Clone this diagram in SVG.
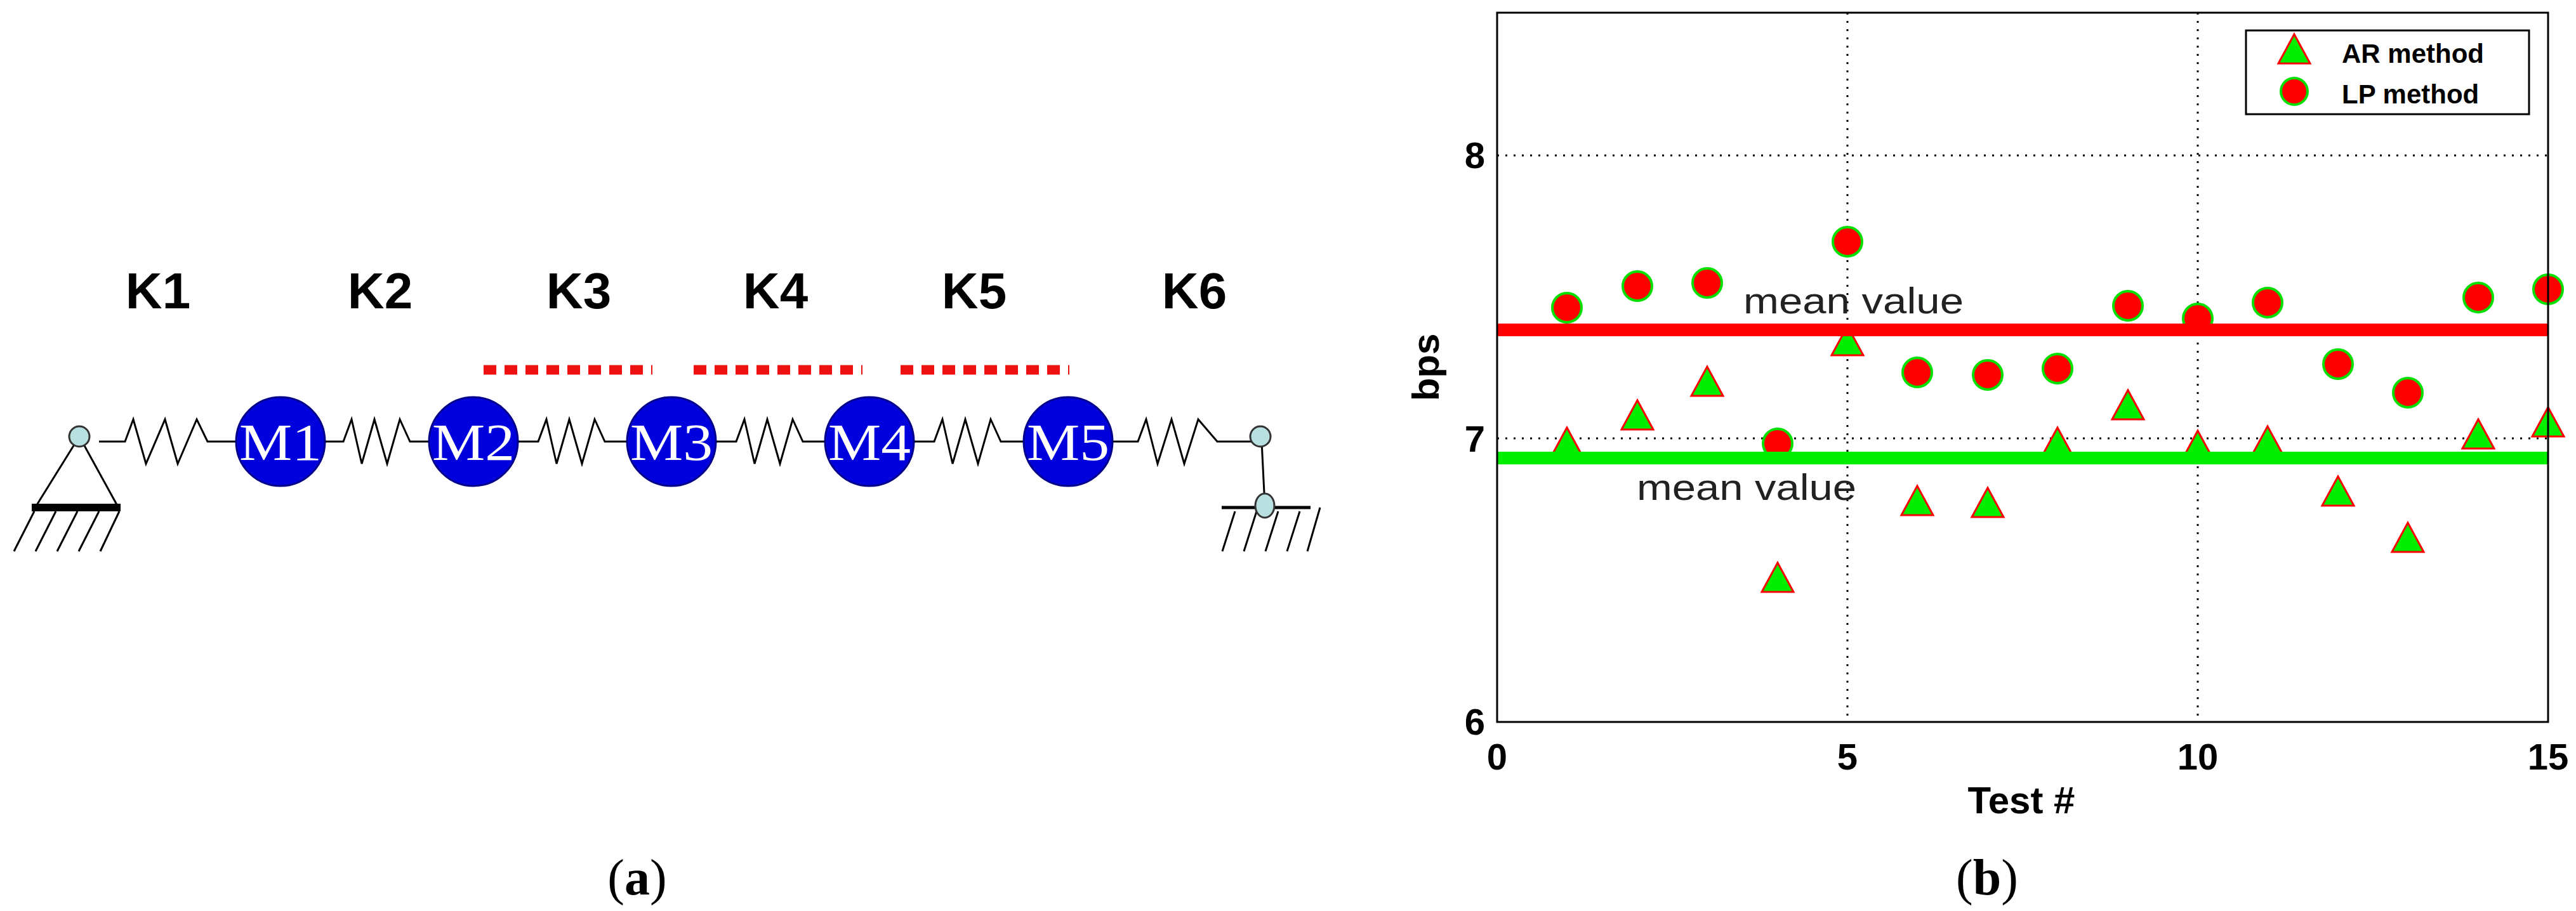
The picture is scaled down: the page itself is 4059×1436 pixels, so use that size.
<svg xmlns="http://www.w3.org/2000/svg" width="4059" height="1436" viewBox="0 0 4059 1436">
<style>
.k{font-family:"Liberation Sans",Arial,sans-serif;font-weight:bold;font-size:80px;fill:#000;text-anchor:middle}
.m{font-family:"Liberation Serif","Times New Roman",serif;font-size:82px;fill:#fff;text-anchor:middle}
.mass{fill:#0000dd;stroke:#00008a;stroke-width:3}
.sp{fill:none;stroke:#000;stroke-width:3}
.bar{stroke:#000;stroke-width:6}
.pin{fill:#b8e0e0;stroke:#333;stroke-width:3}
.h{stroke:#000;stroke-width:3}
.tick{font-family:"Liberation Sans",Arial,sans-serif;font-weight:bold;font-size:58px;fill:#000}
.ax{font-family:"Liberation Sans",Arial,sans-serif;font-weight:bold;font-size:60px;fill:#000;text-anchor:middle}
.mv{font-family:"Liberation Sans",Arial,sans-serif;font-size:58px;fill:#222}
.lg{font-family:"Liberation Sans",Arial,sans-serif;font-weight:bold;font-size:42px;fill:#000}
.grid{stroke:#000;stroke-width:3;stroke-dasharray:3 10}
.cap{font-family:"Liberation Serif","Times New Roman",serif;font-size:80px;fill:#000;text-anchor:middle}
.lp{fill:#ff0000;stroke:#00e000;stroke-width:4}
.ar{fill:#00ee00;stroke:#ff0000;stroke-width:3}
</style>
<defs>
<path id="tri" d="M0,-26 L25,20 L-25,20 Z"/>
</defs>
<g id="connectors">
<path class="sp" d="M156,696 L197,696 L210,661 L230,731 L260,661 L280,731 L310,661 L327,696 L372,696"/>
<path class="sp" d="M512,696 L541,696 L554,661 L570,731 L590,661 L610,731 L630,661 L646,696 L676,696"/>
<path class="sp" d="M816,696 L848,696 L861,661 L877,731 L897,661 L917,731 L937,661 L953,696 L988,696"/>
<path class="sp" d="M1128,696 L1160,696 L1173,661 L1189,731 L1209,661 L1229,731 L1249,661 L1265,696 L1300,696"/>
<path class="sp" d="M1440,696 L1472,696 L1485,661 L1501,731 L1521,661 L1541,731 L1561,661 L1577,696 L1613,696"/>
<path class="sp" d="M1753,696 L1793,696 L1806,661 L1824,731 L1846,661 L1866,731 L1888,661 L1918,696 L1986,696"/>
</g>
<g id="labels-k">
<text class="k" x="249" y="486">K1</text><text class="k" x="599" y="486">K2</text>
<text class="k" x="912" y="486">K3</text><text class="k" x="1222" y="486">K4</text>
<text class="k" x="1535" y="486">K5</text><text class="k" x="1882" y="486">K6</text>
</g>
<g id="dashes" stroke="#ee1111" stroke-width="15" stroke-dasharray="20 13">
<line x1="762" y1="583" x2="1028" y2="583"/><line x1="1093" y1="583" x2="1359" y2="583"/><line x1="1419" y1="583" x2="1685" y2="583"/>
</g>
<g id="left-support">
<path class="sp" d="M125,688 L56,799 M125,688 L186,799"/>
<line x1="50" y1="800" x2="190" y2="800" stroke="#000" stroke-width="12"/>
<path class="h" d="M54,806 L22,869 M88,806 L56,869 M122,806 L90,869 M156,806 L124,869 M188,806 L158,869"/>
<ellipse class="pin" cx="125" cy="688" rx="16" ry="16"/>
</g>
<g id="right-support">
<line class="sp" x1="1988" y1="696" x2="1993" y2="797"/>
<line x1="1925" y1="800" x2="2065" y2="800" stroke="#000" stroke-width="5"/>
<path class="h" d="M1946,806 L1926,869 M1980,806 L1960,869 M2014,806 L1994,869 M2048,806 L2028,869 M2080,800 L2060,869"/>
<ellipse class="pin" cx="1986" cy="688" rx="16" ry="16"/>
<ellipse class="pin" cx="1993" cy="797" rx="15" ry="19"/>
</g>
<g id="M1"><circle class="mass" cx="442" cy="696" r="70"/><text class="m" x="442" y="725" textLength="130" lengthAdjust="spacingAndGlyphs">M1</text></g>
<g id="M2"><circle class="mass" cx="746" cy="696" r="70"/><text class="m" x="746" y="725" textLength="130" lengthAdjust="spacingAndGlyphs">M2</text></g>
<g id="M3"><circle class="mass" cx="1058" cy="696" r="70"/><text class="m" x="1058" y="725" textLength="130" lengthAdjust="spacingAndGlyphs">M3</text></g>
<g id="M4"><circle class="mass" cx="1370" cy="696" r="70"/><text class="m" x="1370" y="725" textLength="130" lengthAdjust="spacingAndGlyphs">M4</text></g>
<g id="M5"><circle class="mass" cx="1683" cy="696" r="70"/><text class="m" x="1683" y="725" textLength="130" lengthAdjust="spacingAndGlyphs">M5</text></g>
<text class="cap" x="1004" y="1410">(<tspan font-weight="bold">a</tspan>)</text>

<g id="plot">
<line class="grid" x1="2359" y1="691" x2="4015" y2="691"/>
<line class="grid" x1="2359" y1="245" x2="4015" y2="245"/>
<line class="grid" x1="2911" y1="20" x2="2911" y2="1138"/>
<line class="grid" x1="3463" y1="20" x2="3463" y2="1138"/>
<g id="lp">
<circle class="lp" cx="2469" cy="485" r="23"/><circle class="lp" cx="2580" cy="451" r="23"/><circle class="lp" cx="2690" cy="446" r="23"/>
<circle class="lp" cx="2801" cy="699" r="23"/><circle class="lp" cx="2911" cy="381" r="23"/><circle class="lp" cx="3021" cy="587" r="23"/>
<circle class="lp" cx="3132" cy="591" r="23"/><circle class="lp" cx="3242" cy="581" r="23"/><circle class="lp" cx="3353" cy="482" r="23"/>
<circle class="lp" cx="3463" cy="502" r="23"/><circle class="lp" cx="3573" cy="477" r="23"/><circle class="lp" cx="3684" cy="574" r="23"/>
<circle class="lp" cx="3794" cy="619" r="23"/><circle class="lp" cx="3905" cy="469" r="23"/><circle class="lp" cx="4015" cy="456" r="23"/>
</g>
<g id="ar">
<use href="#tri" class="ar" x="2469" y="700"/><use href="#tri" class="ar" x="2580" y="657"/><use href="#tri" class="ar" x="2690" y="604"/>
<use href="#tri" class="ar" x="2801" y="913"/><use href="#tri" class="ar" x="2911" y="540"/><use href="#tri" class="ar" x="3021" y="792"/>
<use href="#tri" class="ar" x="3132" y="795"/><use href="#tri" class="ar" x="3242" y="700"/><use href="#tri" class="ar" x="3353" y="641"/>
<use href="#tri" class="ar" x="3463" y="705"/><use href="#tri" class="ar" x="3573" y="698"/><use href="#tri" class="ar" x="3684" y="777"/>
<use href="#tri" class="ar" x="3794" y="850"/><use href="#tri" class="ar" x="3905" y="687"/><use href="#tri" class="ar" x="4015" y="668"/>
</g>
<line x1="2359" y1="520" x2="4015" y2="520" stroke="#ff0000" stroke-width="20"/>
<line x1="2359" y1="722" x2="4015" y2="722" stroke="#00ee00" stroke-width="20"/>
<text class="mv" x="2747" y="494" textLength="347" lengthAdjust="spacingAndGlyphs">mean value</text>
<text class="mv" x="2579" y="788" textLength="346" lengthAdjust="spacingAndGlyphs">mean value</text>
<rect x="2359" y="20" width="1656" height="1118" fill="none" stroke="#000" stroke-width="3"/>
<g id="legend">
<rect x="3539" y="48" width="446" height="132" fill="#fff" stroke="#000" stroke-width="3"/>
<use href="#tri" class="ar" x="3615" y="80"/>
<text class="lg" x="3690" y="99">AR method</text>
<circle class="lp" cx="3615" cy="144" r="21"/>
<text class="lg" x="3690" y="163">LP method</text>
</g>
<text class="tick" x="2340" y="265" text-anchor="end">8</text>
<text class="tick" x="2340" y="712" text-anchor="end">7</text>
<text class="tick" x="2340" y="1158" text-anchor="end">6</text>
<text class="tick" x="2359" y="1213" text-anchor="middle">0</text>
<text class="tick" x="2911" y="1213" text-anchor="middle">5</text>
<text class="tick" x="3463" y="1213" text-anchor="middle">10</text>
<text class="tick" x="4015" y="1213" text-anchor="middle">15</text>
<text class="ax" x="3185" y="1282">Test #</text>
<text class="ax" transform="translate(2267,579) rotate(-90)">bps</text>
</g>
<text class="cap" x="3131" y="1410">(<tspan font-weight="bold">b</tspan>)</text>
</svg>
